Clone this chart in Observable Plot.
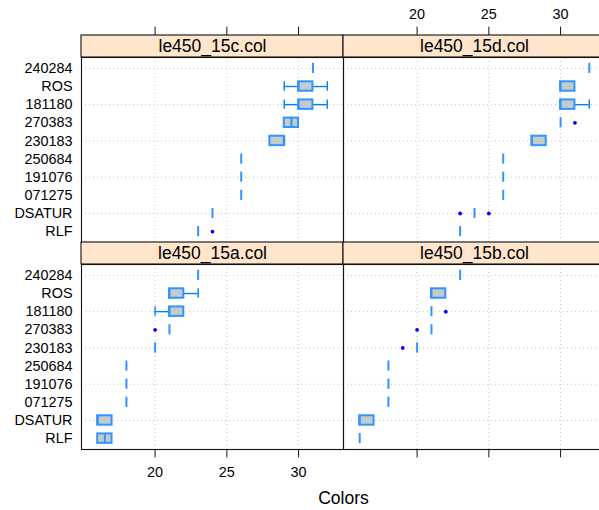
<!DOCTYPE html>
<html>
<head>
<meta charset="utf-8">
<script src="https://cdn.jsdelivr.net/npm/d3@7"></script>
<script src="https://cdn.jsdelivr.net/npm/@observablehq/plot@0.6"></script>
<style>
  html, body { margin: 0; padding: 0; background: #fff; overflow: hidden; }
  #chart { position: relative; width: 599px; height: 510px; overflow: hidden; }
  #chart > svg { position: absolute; }
</style>
</head>
<body>
<div id="chart"></div>
<script>
// Algorithms, listed from the top row of each panel down
const algorithms = ["240284", "ROS", "181180", "270383", "230183", "250684", "191076", "071275", "DSATUR", "RLF"];

// Instances, in panel order: top-left, top-right, bottom-left, bottom-right
const instances = ["le450_15c.col", "le450_15d.col", "le450_15a.col", "le450_15b.col"];

// Box statistics per algorithm (same order): [lower whisker, Q1, median, Q3, upper whisker]
const le450_15c = [
  [31, 31, 31, 31, 31],
  [29, 30, 30, 31, 32],
  [29, 30, 30, 31, 32],
  [29, 29, 29.5, 30, 30],
  [28, 28, 29, 29, 29],
  [26, 26, 26, 26, 26],
  [26, 26, 26, 26, 26],
  [26, 26, 26, 26, 26],
  [24, 24, 24, 24, 24],
  [23, 23, 23, 23, 23]
];
const le450_15d = [
  [32, 32, 32, 32, 32],
  [30, 30, 30, 31, 31],
  [30, 30, 30, 31, 32],
  [30, 30, 30, 30, 30],
  [28, 28, 28, 29, 29],
  [26, 26, 26, 26, 26],
  [26, 26, 26, 26, 26],
  [26, 26, 26, 26, 26],
  [24, 24, 24, 24, 24],
  [23, 23, 23, 23, 23]
];
const le450_15a = [
  [23, 23, 23, 23, 23],
  [21, 21, 21, 22, 23],
  [20, 21, 21, 22, 22],
  [21, 21, 21, 21, 21],
  [20, 20, 20, 20, 20],
  [18, 18, 18, 18, 18],
  [18, 18, 18, 18, 18],
  [18, 18, 18, 18, 18],
  [16, 16, 16, 17, 17],
  [16, 16, 16.5, 17, 17]
];
const le450_15b = [
  [23, 23, 23, 23, 23],
  [21, 21, 21, 22, 22],
  [21, 21, 21, 21, 21],
  [21, 21, 21, 21, 21],
  [20, 20, 20, 20, 20],
  [18, 18, 18, 18, 18],
  [18, 18, 18, 18, 18],
  [18, 18, 18, 18, 18],
  [16, 16, 16, 17, 17],
  [16, 16, 16, 16, 16]
];

// Outlying runs: [algorithm, colors]
const outliers15c = [["RLF", 24]];
const outliers15d = [["270383", 31], ["DSATUR", 23], ["DSATUR", 25]];
const outliers15a = [["270383", 20]];
const outliers15b = [["181180", 22], ["270383", 20], ["230183", 19]];

const xTicks = [20, 25, 30];
const xLimits = [14.87, 33.13];
const yLimits = [0.4, 10.6];

// Panel geometry (pixels)
const frameW = 262, plotH = 185, stripH = 22, axisTop = 35;
const unit = plotH / (yLimits[1] - yLimits[0]);
const above = (px) => yLimits[1] + px / unit;
const below = (px) => yLimits[0] - px / unit;

const font = "'Liberation Sans', Arial, Helvetica, sans-serif";
const blue = "#0080ff";
const boxBlue = "#3393ff";
const half = 0.26;

function panel(title, stats, outliers, o) {
  const n = algorithms.length;
  const rows = algorithms.map((algo, i) => {
    const [lo, q1, med, q3, hi] = stats[i];
    return {algo, pos: n - i, lo, q1, med, q3, hi};
  });
  const posOf = new Map(rows.map((d) => [d.algo, d.pos]));
  const outs = outliers.map(([algo, value]) => ({pos: posOf.get(algo), value}));
  const gridRows = rows.filter((d) => d.pos % 2 === 0);

  const marks = [
    // dotted reference grid
    Plot.ruleX(xTicks, {stroke: "#c4c4c4", strokeDasharray: "1 3"}),
    Plot.ruleY(gridRows, {y: "pos", stroke: "#c4c4c4", strokeDasharray: "1 3"}),
    // whiskers with end caps
    Plot.ruleY(rows.filter((d) => d.lo < d.q1), {y: "pos", x1: "lo", x2: "q1", stroke: blue, strokeWidth: 1.4}),
    Plot.ruleY(rows.filter((d) => d.hi > d.q3), {y: "pos", x1: "q3", x2: "hi", stroke: blue, strokeWidth: 1.4}),
    Plot.ruleX(rows.filter((d) => d.lo < d.q1), {x: "lo", y1: (d) => d.pos - half, y2: (d) => d.pos + half, stroke: blue, strokeWidth: 1.4}),
    Plot.ruleX(rows.filter((d) => d.hi > d.q3), {x: "hi", y1: (d) => d.pos - half, y2: (d) => d.pos + half, stroke: blue, strokeWidth: 1.4}),
    // boxes
    Plot.rect(rows.filter((d) => d.q3 > d.q1), {
      x1: "q1", x2: "q3", y1: (d) => d.pos - half, y2: (d) => d.pos + half,
      fill: "#c4cbcb", stroke: boxBlue, strokeWidth: 2
    }),
    // medians
    Plot.ruleX(rows, {x: "med", y1: (d) => d.pos - half - 0.02, y2: (d) => d.pos + half + 0.02, stroke: boxBlue, strokeWidth: 2}),
    // outliers
    Plot.dot(outs, {x: "value", y: "pos", r: 1.9, fill: "#0000ff", stroke: "none"}),
    // panel border
    Plot.frame({stroke: "#111", strokeWidth: 1.1}),
    // strip with panel title
    Plot.rect([title], {
      x1: () => xLimits[0], x2: () => xLimits[1], y1: () => yLimits[1], y2: () => above(stripH),
      fill: "#ffe5cc", stroke: "#111", strokeWidth: 1.1
    }),
    Plot.text([title], {x: () => (xLimits[0] + xLimits[1]) / 2, y: () => above(stripH / 2), text: (d) => d, fontSize: 17.5})
  ];

  if (o.row === 0) {
    marks.push(Plot.ruleX(xTicks, {y1: () => above(stripH), y2: () => above(stripH + 8.3), stroke: "#111"}));
    if (o.col === 1) marks.push(Plot.text(xTicks, {x: (d) => d, y: () => above(stripH + 20.7), text: (d) => String(d), fontSize: 14.4}));
  } else {
    marks.push(Plot.ruleX(xTicks, {y1: () => yLimits[0], y2: () => below(8.4), stroke: "#111"}));
    if (o.col === 0) {
      marks.push(Plot.text(xTicks, {x: (d) => d, y: () => below(22.5), text: (d) => String(d), fontSize: 14.4}));
      marks.push(Plot.text(["Colors"], {x: () => xLimits[1], y: () => below(48.5), text: (d) => d, fontSize: 17.5}));
    }
  }
  if (o.col === 0) {
    marks.push(Plot.text(rows, {x: () => xLimits[0], y: "pos", text: "algo", textAnchor: "end", dx: -9, fontSize: 14.4}));
  }

  const marginLeft = o.col === 0 ? 81 : 0;
  const marginTop = o.row === 0 ? axisTop + stripH : stripH;
  const marginBottom = o.row === 0 ? 0 : 61;
  const svg = Plot.plot({
    width: marginLeft + frameW,
    height: marginTop + plotH + marginBottom,
    marginLeft, marginRight: 0, marginTop, marginBottom,
    x: {domain: xLimits, axis: null},
    y: {domain: yLimits, axis: null},
    style: {background: "transparent", overflow: "visible", fontFamily: font, fontSize: "14.4px", color: "#000"},
    marks
  });
  svg.style.left = (o.col === 0 ? 0 : 81 + frameW) + "px";
  svg.style.top = (o.row === 0 ? 0 : axisTop + stripH + plotH) + "px";
  svg.style.maxWidth = "none";
  return svg;
}

const chart = document.getElementById("chart");
chart.append(
  panel(instances[0], le450_15c, outliers15c, {row: 0, col: 0}),
  panel(instances[1], le450_15d, outliers15d, {row: 0, col: 1}),
  panel(instances[2], le450_15a, outliers15a, {row: 1, col: 0}),
  panel(instances[3], le450_15b, outliers15b, {row: 1, col: 1})
);
</script>
</body>
</html>
